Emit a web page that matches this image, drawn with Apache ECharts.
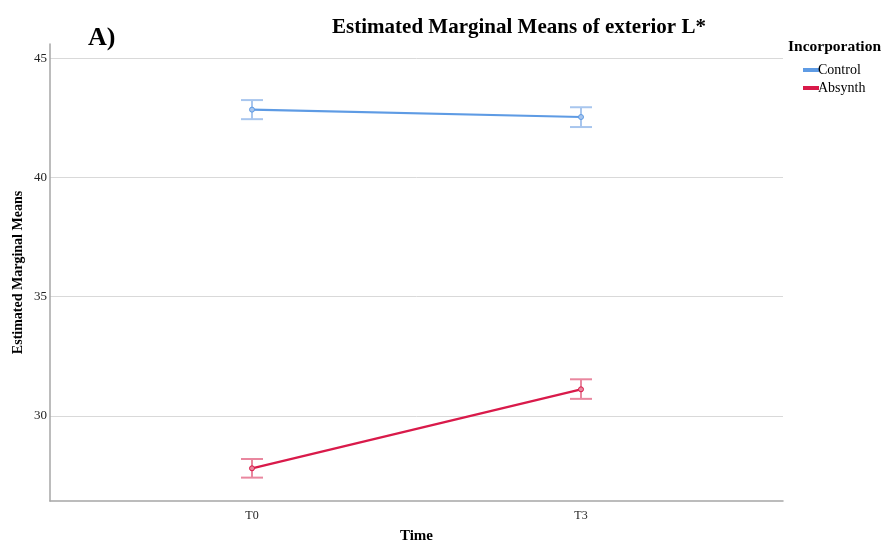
<!DOCTYPE html>
<html>
<head>
<meta charset="utf-8">
<script src="https://cdn.jsdelivr.net/npm/echarts@6/dist/echarts.min.js"></script>
<style>html,body{margin:0;padding:0;background:#fff}#c{width:884px;height:542px}</style>
</head>
<body>
<div id="c"></div>
<script>
const categories = ['T0', 'T3'];
const controlMeans = [42.84, 42.53];
const controlLow = [42.44, 42.11];
const controlHigh = [43.24, 42.94];
const absynthMeans = [27.81, 31.12];
const absynthLow = [27.42, 30.72];
const absynthHigh = [28.20, 31.54];
const yTicks = [30, 35, 40, 45];

const serif = 'Liberation Serif';
const blue = '#5e9be4';
const blueLight = '#a8c6ee';
const red = '#d91a4a';
const redLight = '#e9879f';

function pts(arr){ return arr.map((v,i)=>[i,v]); }
function errs(lo,hi){ return lo.map((v,i)=>[i,v,hi[i]]); }

function errRender(color){
  return function(params, api){
    const x = api.value(0);
    const p1 = api.coord([x, api.value(1)]);
    const p2 = api.coord([x, api.value(2)]);
    const hw = 11;
    const st = {stroke: color, lineWidth: 2};
    return {type:'group', children:[
      {type:'line', shape:{x1:p1[0],y1:p1[1],x2:p2[0],y2:p2[1]}, style:st},
      {type:'line', shape:{x1:p1[0]-hw,y1:p1[1],x2:p1[0]+hw,y2:p1[1]}, style:st},
      {type:'line', shape:{x1:p2[0]-hw,y1:p2[1],x2:p2[0]+hw,y2:p2[1]}, style:st}
    ]};
  };
}

const chart = echarts.init(document.getElementById('c'));
chart.setOption({
  animation: false,
  backgroundColor: '#fff',
  title: [
    {text: 'Estimated Marginal Means of exterior L*', left: 514, top: 12, textAlign: 'center',
     textStyle: {fontFamily: serif, fontWeight: 'bold', fontSize: 21, color: '#000'}},
    {text: 'A)', left: 88, top: 25, padding: 0,
     textStyle: {fontFamily: serif, fontWeight: 'bold', fontSize: 26, color: '#000'}},
    {text: 'Incorporation', left: 788, top: 39, padding: 0,
     textStyle: {fontFamily: serif, fontWeight: 'bold', fontSize: 15.5, color: '#000'}}
  ],
  legend: {
    orient: 'vertical', left: 803, top: 63, itemGap: 4, itemWidth: 14, itemHeight: 2,
    padding: 0, icon: 'rect',
    textStyle: {fontFamily: serif, fontSize: 14, color: '#000', padding: [0,0,0,-5]},
    data: [{name: 'Control', itemStyle:{color: blue}}, {name: 'Absynth', itemStyle:{color: red}}]
  },
  grid: {left: 50, right: 101, top: 44, bottom: 41, outerBoundsMode: 'none', containLabel: false},
  xAxis: {
    type: 'value', min: -0.614, max: 1.614,
    name: 'Time', nameLocation: 'middle', nameGap: 28,
    nameTextStyle: {fontFamily: serif, fontWeight: 'bold', fontSize: 15, color: '#000'},
    axisLine: {show: true, onZero: false, lineStyle: {color: '#a6a6a6', width: 1.5}},
    axisTick: {show: false, customValues: [0, 1]},
    splitLine: {show: false},
    axisLabel: {customValues: [0, 1], formatter: v => categories[Math.round(v)],
      fontFamily: serif, fontSize: 12, color: '#222', margin: 9}
  },
  yAxis: {
    type: 'value', min: 26.44, max: 45.59,
    name: 'Estimated Marginal Means', nameLocation: 'middle', nameGap: 25, nameMoveOverlap: false,
    nameTextStyle: {fontFamily: serif, fontWeight: 'bold', fontSize: 14, color: '#000'},
    axisLine: {show: true, onZero: false, lineStyle: {color: '#a6a6a6', width: 1.5}},
    axisTick: {show: false, customValues: yTicks},
    splitLine: {show: true, lineStyle: {color: '#d9d9d9', width: 1}},
    axisLabel: {customValues: yTicks, fontFamily: serif, fontSize: 13, color: '#222', margin: 3}
  },
  series: [
    {name: 'ControlErr', type: 'custom', data: errs(controlLow, controlHigh), renderItem: errRender(blueLight), z: 1, silent: true},
    {name: 'AbsynthErr', type: 'custom', data: errs(absynthLow, absynthHigh), renderItem: errRender(redLight), z: 1, silent: true},
    {name: 'Control', type: 'line', data: pts(controlMeans), symbol: 'circle', symbolSize: 5,
     lineStyle: {color: blue, width: 2.2}, itemStyle: {color: blueLight, borderColor: blue, borderWidth: 1}, z: 3},
    {name: 'Absynth', type: 'line', data: pts(absynthMeans), symbol: 'circle', symbolSize: 5,
     lineStyle: {color: red, width: 2.2}, itemStyle: {color: redLight, borderColor: red, borderWidth: 1}, z: 3}
  ]
});
</script>
</body>
</html>
